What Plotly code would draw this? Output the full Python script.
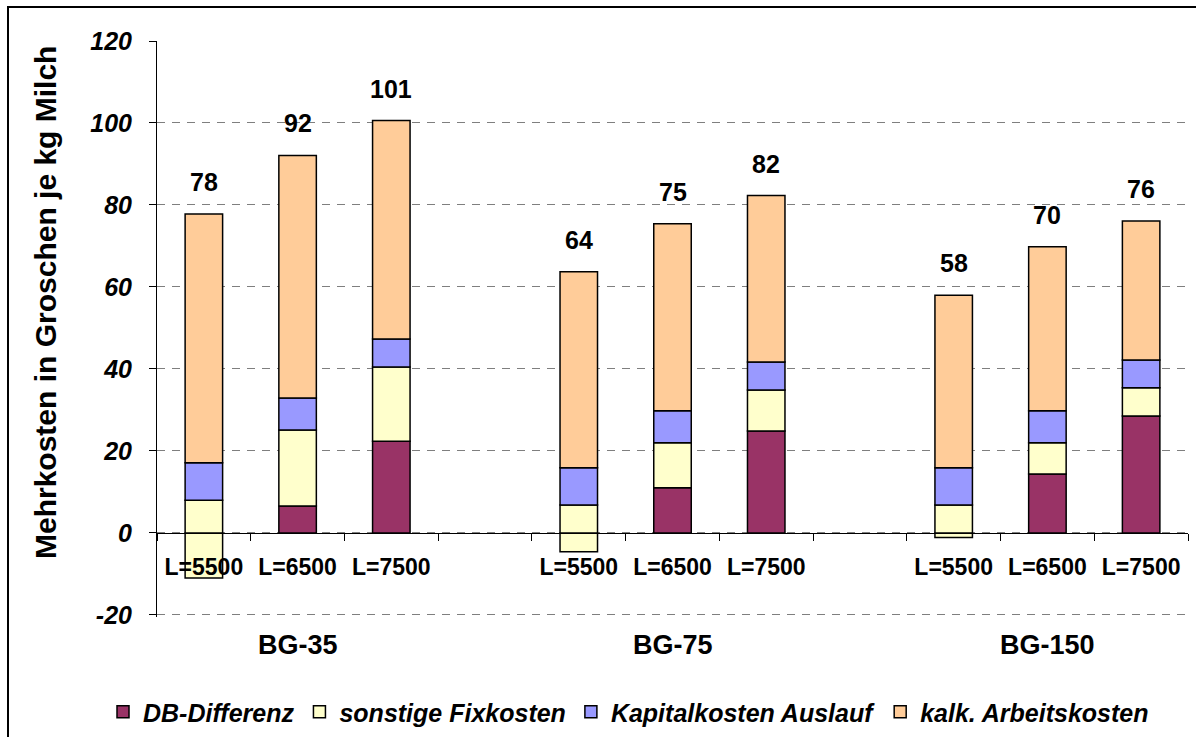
import plotly.graph_objects as go

# Category slots: three herd sizes (BG), each with three milk yields, separated by empty slots
slots = ["35-5500", "35-6500", "35-7500", "gap1",
         "75-5500", "75-6500", "75-7500", "gap2",
         "150-5500", "150-6500", "150-7500"]
slot_labels = ["L=5500", "L=6500", "L=7500", "",
               "L=5500", "L=6500", "L=7500", "",
               "L=5500", "L=6500", "L=7500"]
group_names = ["BG-35", "BG-75", "BG-150"]
group_centers = ["35-6500", "75-6500", "150-6500"]

# Cost components in Groschen per kg milk
db_differenz = [-11.0, 6.6, 22.4, None, -4.6, 11.0, 24.9, None, -1.1, 14.4, 28.5]
sonstige_fix = [8.0, 18.5, 18.1, None, 6.8, 11.0, 10.0, None, 6.8, 7.6, 6.9]
kapital_auslauf = [9.1, 7.8, 6.8, None, 9.1, 7.8, 6.8, None, 9.1, 7.8, 6.8]
kalk_arbeit = [60.7, 59.2, 53.3, None, 47.8, 45.6, 40.6, None, 42.1, 40.0, 33.9]

y_ticks = [-20, 0, 20, 40, 60, 80, 100, 120]
y_tick_text = ["-20", "0", "20", "40", "60", "80", "100", "120"]

C_DB = "#993366"
C_FIX = "#FFFFCC"
C_KAP = "#9999FF"
C_ARB = "#FFCC99"

FONT = "Liberation Sans, Arial, sans-serif"
outline = dict(color="#000000", width=1.5)

# Plot-area geometry in pixels
W, H = 1196, 737
L_M, R_M, T_M, B_M = 157, 8, 41, 120
PW, PH = W - L_M - R_M, H - T_M - B_M


def px_x(px):
    return (px - L_M) / PW


def px_y(py):
    return (H - B_M - py) / PH


db_pos = [v if (v is not None and v > 0) else None for v in db_differenz]
db_neg = [v if (v is not None and v < 0) else None for v in db_differenz]

fig = go.Figure()
fig.add_bar(x=slots, y=db_pos, name="DB-Differenz",
            marker=dict(color=C_DB, line=outline))
fig.add_bar(x=slots, y=db_neg, name="DB-Differenz", showlegend=False,
            marker=dict(color=C_FIX, line=outline))
fig.add_bar(x=slots, y=sonstige_fix, name="sonstige Fixkosten",
            marker=dict(color=C_FIX, line=outline))
fig.add_bar(x=slots, y=kapital_auslauf, name="Kapitalkosten Auslauf",
            marker=dict(color=C_KAP, line=outline))
fig.add_bar(x=slots, y=kalk_arbeit, name="kalk. Arbeitskosten",
            marker=dict(color=C_ARB, line=outline))

# Totals of the positive stack, printed above each column
annotations = []
for i, s in enumerate(slots):
    parts = [db_differenz[i], sonstige_fix[i], kapital_auslauf[i], kalk_arbeit[i]]
    if all(p is None for p in parts):
        continue
    top = sum(p for p in parts if p is not None and p > 0)
    annotations.append(dict(x=s, y=top, xref="x", yref="y", yshift=32,
                            text=str(int(round(top))), showarrow=False,
                            font=dict(family=FONT, size=25, color="black", weight="bold")))

for name, c in zip(group_names, group_centers):
    annotations.append(dict(x=c, y=px_y(645), xref="x", yref="paper", text=name,
                            showarrow=False, yanchor="middle",
                            font=dict(family=FONT, size=27, color="black", weight="bold")))

annotations.append(dict(x=px_x(45), y=px_y(303), xref="paper", yref="paper",
                        text="Mehrkosten in Groschen je kg Milch", textangle=-90,
                        showarrow=False, xanchor="center", yanchor="middle",
                        font=dict(family=FONT, size=30, color="black", weight="bold")))

y_min, y_max = -20.5, 120

fig.update_layout(
    width=W, height=H,
    margin=dict(l=L_M, r=R_M, t=T_M, b=B_M, autoexpand=False),
    paper_bgcolor="white", plot_bgcolor="white",
    barmode="relative", bargap=0.6,
    font=dict(family=FONT, color="black"),
    annotations=annotations,
    legend=dict(orientation="h", x=px_x(103), xanchor="left", y=px_y(712), yanchor="middle",
                traceorder="normal", bgcolor="rgba(0,0,0,0)",
                font=dict(family=FONT, size=25, color="black", weight="bold", style="italic")),
    shapes=[dict(type="rect", xref="paper", yref="paper",
                 x0=px_x(8), x1=px_x(1199), y0=px_y(740), y1=px_y(7),
                 line=dict(color="black", width=2), layer="above")],
)

fig.update_xaxes(
    type="category", categoryorder="array", categoryarray=slots,
    tickmode="array", tickvals=slots, ticktext=slot_labels,
    tickson="boundaries", ticks="outside", ticklen=7, tickcolor="black",
    showline=True, linecolor="black", linewidth=1, showgrid=False,
    anchor="free", position=(0 - y_min) / (y_max - y_min),
    range=[-0.5, len(slots) - 0.5],
    tickfont=dict(family=FONT, size=23, color="black", weight="bold"),
    ticklabelstandoff=13,
)

fig.update_yaxes(
    range=[y_min, y_max], tickmode="array", tickvals=y_ticks, ticktext=y_tick_text,
    ticks="outside", ticklen=7, tickcolor="black",
    showline=True, linecolor="black", linewidth=1,
    showgrid=True, gridcolor="#7f7f7f", gridwidth=1, griddash="8px,7px",
    zeroline=False,
    tickfont=dict(family=FONT, size=25, color="black", weight="bold", style="italic"),
    ticklabelstandoff=12,
)

fig.write_html("out.html")
